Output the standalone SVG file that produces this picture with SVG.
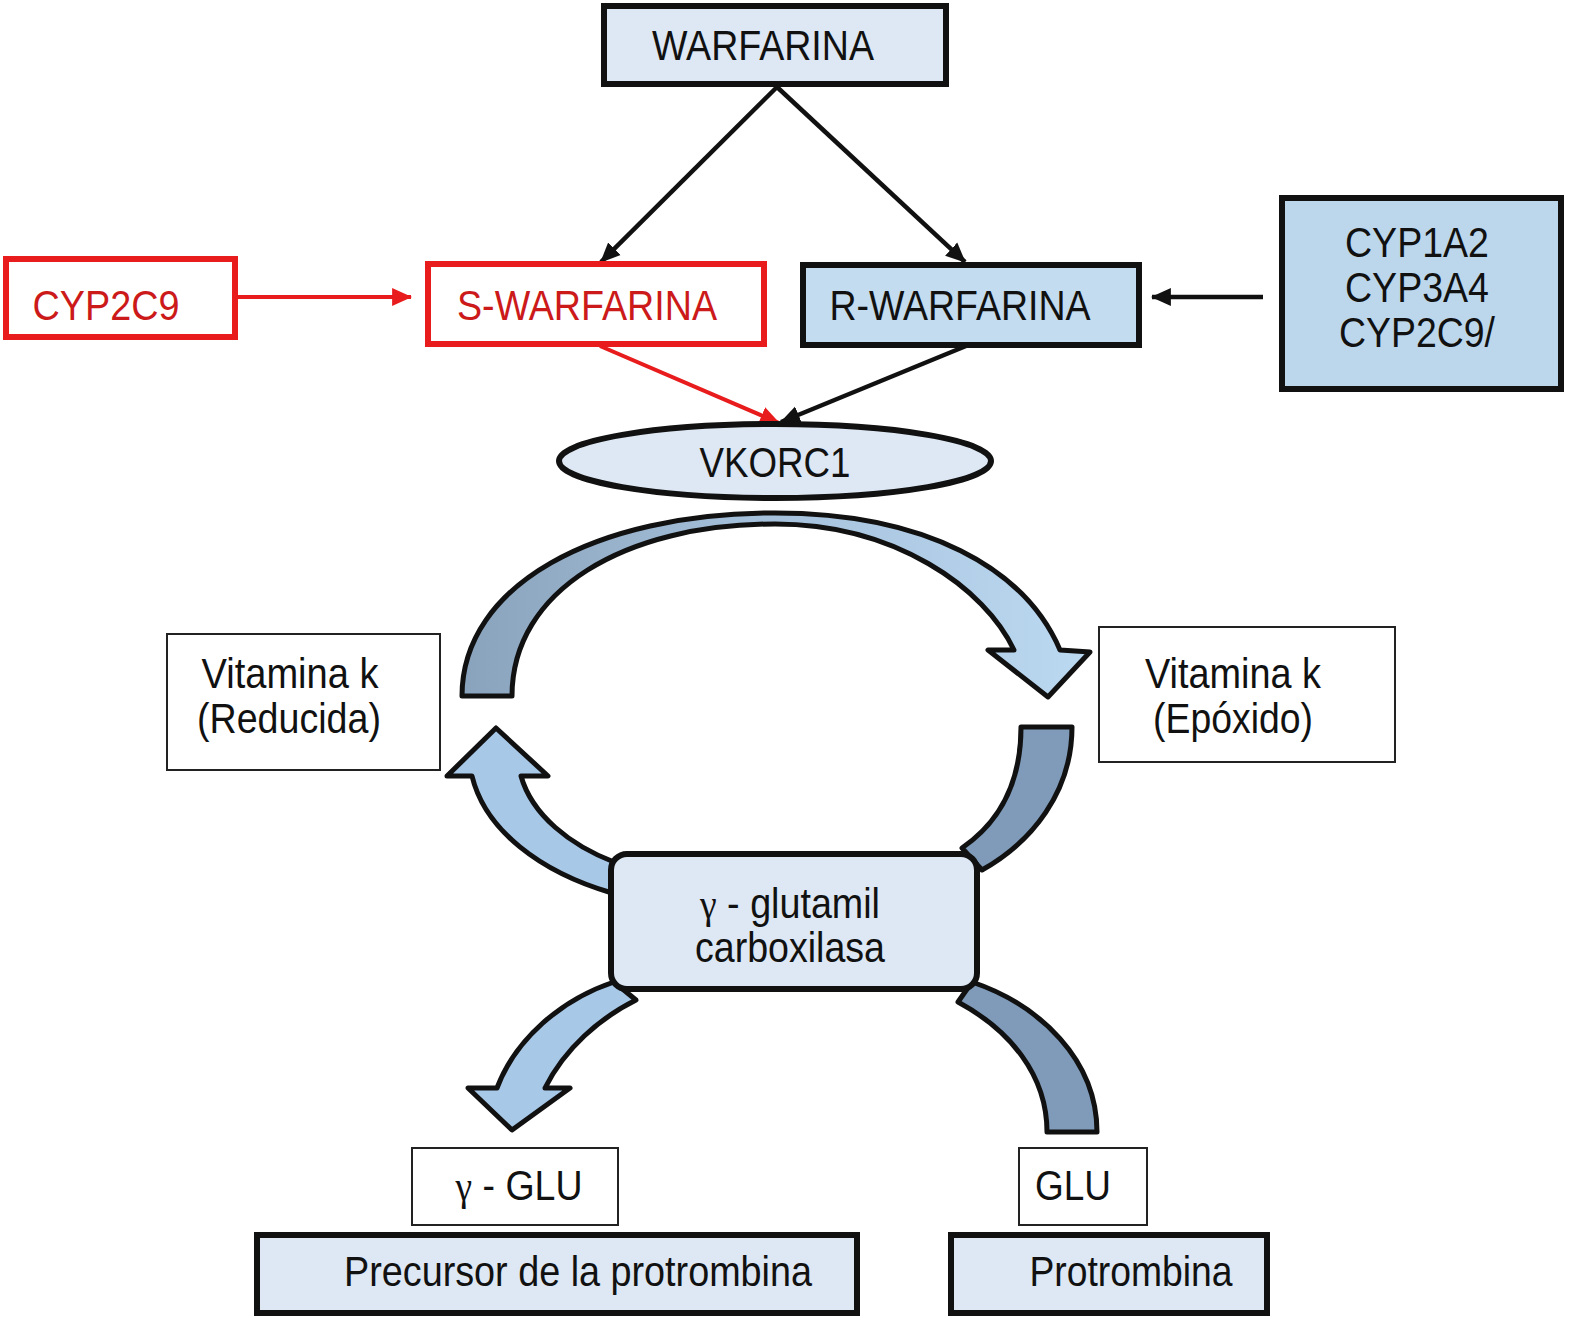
<svg xmlns="http://www.w3.org/2000/svg" width="1577" height="1328" viewBox="0 0 1577 1328">
<defs>
<style>
text{font-family:"Liberation Sans",Arial,sans-serif;font-size:42px;fill:#111;text-anchor:middle}
.g{font-family:"Liberation Serif","Times New Roman",serif}
.red{fill:#cc1a1a}
.thick{stroke:#111;stroke-width:6}
.thin{stroke:#222;stroke-width:2;fill:#fff}
.light{fill:#dde8f4}
.ln{stroke:#111;stroke-width:4.5;fill:none}
.rln{stroke:#e81c1c;stroke-width:4;fill:none}
.band{stroke:#111;stroke-width:5;stroke-linejoin:round}
</style>
<marker id="ab" markerUnits="userSpaceOnUse" markerWidth="20" markerHeight="20" refX="17" refY="8" orient="auto" viewBox="0 0 18 16"><path d="M0,0 L18,8 L0,16 Z" fill="#111"/></marker>
<marker id="ar" markerUnits="userSpaceOnUse" markerWidth="20" markerHeight="20" refX="17" refY="8" orient="auto" viewBox="0 0 18 16"><path d="M0,0 L18,8 L0,16 Z" fill="#e81c1c"/></marker>
<linearGradient id="gArc" x1="462" y1="0" x2="1090" y2="0" gradientUnits="userSpaceOnUse">
<stop offset="0" stop-color="#8aa3bd"/><stop offset="0.45" stop-color="#a4bfd9"/><stop offset="1" stop-color="#bcd9f2"/>
</linearGradient>
</defs>

<g id="connectors">
<line class="ln" x1="777" y1="87" x2="601" y2="262" marker-end="url(#ab)"/>
<line class="ln" x1="777" y1="87" x2="965" y2="262" marker-end="url(#ab)"/>
<line class="rln" x1="236" y1="297" x2="411" y2="297" marker-end="url(#ar)"/>
<line class="ln" x1="1263" y1="297" x2="1152" y2="297" marker-end="url(#ab)"/>
<line class="rln" x1="600" y1="346" x2="779" y2="423" marker-end="url(#ar)"/>
<line class="ln" x1="966" y1="346" x2="781" y2="422" marker-end="url(#ab)"/>
<path class="band" fill="url(#gArc)" d="M462,696 C462,585 595,513 775,513 C925,513 1025,568 1060,650 L1090,652 L1048,697 L988,650 L1014,650 C985,588 895,524 775,524 C625,524 512,590 512,696 Z"/>
<path class="band" fill="#a8c8e8" d="M612,893 C540,872 485,830 472,776 L447,776 L496,728 L548,776 L521,776 C532,815 570,845 614,862 Z"/>
<path class="band" fill="#7f9bb9" d="M1021,727 L1072,727 C1072,792 1032,842 982,870 L962,848 C1000,822 1021,782 1021,727 Z"/>
<path class="band" fill="#a8c8e8" d="M614,982 C560,1000 515,1040 497,1088 L468,1088 L512,1130 L570,1088 L545,1088 C565,1048 600,1018 636,1000 Z"/>
<path class="band" fill="#7f9bb9" d="M972,982 C1040,1005 1097,1060 1097,1132 L1047,1132 C1047,1075 1010,1030 958,1002 Z"/>
</g>

<g id="warfarina">
<rect class="thick light" x="604" y="6" width="342" height="78"/>
<text x="763" y="60" textLength="222" lengthAdjust="spacingAndGlyphs">WARFARINA</text>
</g>
<g id="cyp2c9">
<rect x="6" y="259" width="229" height="78" fill="#fff" stroke="#e81c1c" stroke-width="6"/>
<text class="red" x="106" y="320" textLength="147" lengthAdjust="spacingAndGlyphs">CYP2C9</text>
</g>
<g id="s-warfarina">
<rect x="428" y="264" width="336" height="80" fill="#fff" stroke="#e81c1c" stroke-width="6"/>
<text class="red" x="587" y="320" textLength="260" lengthAdjust="spacingAndGlyphs">S-WARFARINA</text>
</g>
<g id="r-warfarina">
<rect class="thick" x="803" y="265" width="336" height="80" fill="#c4dcef"/>
<text x="960" y="320" textLength="261" lengthAdjust="spacingAndGlyphs">R-WARFARINA</text>
</g>
<g id="cyp-group">
<rect class="thick" x="1282" y="198" width="279" height="191" fill="#bcd7ec"/>
<text x="1417" y="257" textLength="144" lengthAdjust="spacingAndGlyphs">CYP1A2</text>
<text x="1417" y="302" textLength="144" lengthAdjust="spacingAndGlyphs">CYP3A4</text>
<text x="1417" y="347" textLength="156" lengthAdjust="spacingAndGlyphs">CYP2C9/</text>
</g>
<g id="vkorc1">
<ellipse class="thick light" cx="775" cy="461" rx="216" ry="37" stroke-width="5"/>
<text x="775" y="477" textLength="151" lengthAdjust="spacingAndGlyphs">VKORC1</text>
</g>
<g id="vitk-reducida">
<rect class="thin" x="167" y="634" width="273" height="136"/>
<text x="290" y="688" textLength="177" lengthAdjust="spacingAndGlyphs">Vitamina k</text>
<text x="289" y="733" textLength="184" lengthAdjust="spacingAndGlyphs">(Reducida)</text>
</g>
<g id="vitk-epoxido">
<rect class="thin" x="1099" y="627" width="296" height="135"/>
<text x="1233" y="688" textLength="176" lengthAdjust="spacingAndGlyphs">Vitamina k</text>
<text x="1233" y="733" textLength="160" lengthAdjust="spacingAndGlyphs">(Epóxido)</text>
</g>
<g id="carboxilasa">
<rect class="thick light" x="611" y="854" width="366" height="135" rx="16" stroke-width="5"/>
<text x="790" y="918" textLength="180" lengthAdjust="spacingAndGlyphs"><tspan class="g">γ</tspan> - glutamil</text>
<text x="790" y="962" textLength="190" lengthAdjust="spacingAndGlyphs">carboxilasa</text>
</g>
<g id="gamma-glu">
<rect class="thin" x="412" y="1148" width="206" height="77"/>
<text x="519" y="1200" textLength="127" lengthAdjust="spacingAndGlyphs"><tspan class="g">γ</tspan> - GLU</text>
</g>
<g id="glu">
<rect class="thin" x="1019" y="1148" width="128" height="77"/>
<text x="1073" y="1200" textLength="76" lengthAdjust="spacingAndGlyphs">GLU</text>
</g>
<g id="precursor">
<rect class="thick light" x="257" y="1235" width="600" height="78"/>
<text x="578" y="1286" textLength="468" lengthAdjust="spacingAndGlyphs">Precursor de la protrombina</text>
</g>
<g id="protrombina">
<rect class="thick light" x="951" y="1235" width="316" height="78"/>
<text x="1131" y="1286" textLength="203" lengthAdjust="spacingAndGlyphs">Protrombina</text>
</g>
</svg>
